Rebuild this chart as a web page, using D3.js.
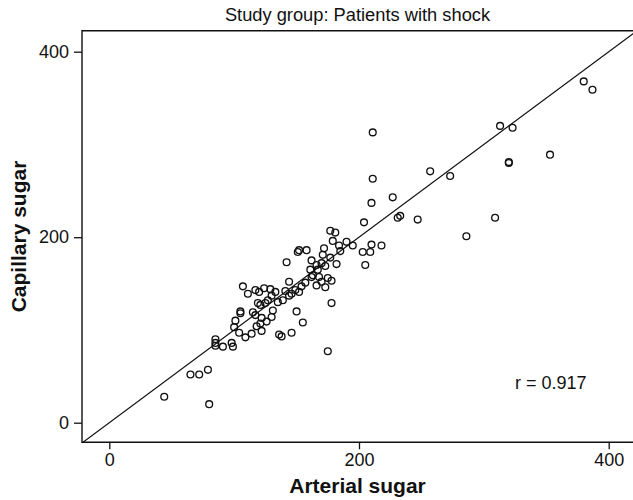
<!DOCTYPE html>
<html><head><meta charset="utf-8">
<script src="https://cdn.jsdelivr.net/npm/d3@7"></script>
<style>body{margin:0;background:#fff}svg{display:block}text{font-family:"Liberation Sans",Arial,sans-serif;fill:#111}</style>
</head><body><svg id="c" width="633" height="500"></svg>
<script>
const arterial = [44,65,72,79,80,85,85,85,91,98,99,104,109,114,100,101,105,105,115,117,121,122,121,118,122,126,130,131,125,119,136,
107,111,117,120,127,130,124,129,133,135,139,141,144,144,146,149,152,154,157,142,151,152,158,138,146,155,150,
162,166,167,161,163,168,170,175,178,173,166,162,172,171,170,173,177,177,181,179,184,185,190,195,182,178,175,
203,209,210,218,205,204,210,211,211,227,231,233,247,257,273,286,309,313,323,320,320,353,380,387];
const capillary = [28,52,52,57,20,90,86,83,82,86,82,97,92,96,103,110,120,118,119,116,127,113,107,104,99,109,114,121,129,129,95,
147,139,143,141,132,137,145,144,141,130,132,142,152,137,139,143,141,147,151,173,184,186,186,93,97,108,120,
175,170,165,165,159,157,152,156,153,146,148,157,188,181,172,169,178,207,205,196,191,185,195,191,171,129,77,
184,184,192,191,170,216,237,263,313,243,221,223,219,271,266,201,221,320,318,281,280,289,368,359];
const xTicks = [0,200,400];
const yTicks = [0,200,400];
const titleText = "Study group: Patients with shock";
const xLabel = "Arterial sugar";
const yLabel = "Capillary sugar";
const rText = "r = 0.917";

const svg = d3.select("#c");
const L=82, R=633, T=30.7, B=442.3;
const x = d3.scaleLinear().domain([-21.87,419.46]).range([L,R]);
const y = d3.scaleLinear().domain([-21.13,422.64]).range([B,T]);

svg.append("clipPath").attr("id","clip").append("rect")
  .attr("x",L).attr("y",T).attr("width",R-L).attr("height",B-T);

// identity line
svg.append("line").attr("clip-path","url(#clip)")
  .attr("x1",x(-30)).attr("y1",y(-30)).attr("x2",x(430)).attr("y2",y(430))
  .attr("stroke","#111").attr("stroke-width",1.2);

// points
svg.append("g").selectAll("circle").data(arterial.map((a,i)=>[a,capillary[i]]))
  .join("circle").attr("cx",d=>x(d[0])).attr("cy",d=>y(d[1])).attr("r",3.4)
  .attr("fill","none").attr("stroke","#111").attr("stroke-width",1.35);

// frame
svg.append("path").attr("d",`M${R},${T}H${L}V${B}H${R}`).attr("fill","none")
  .attr("stroke","#111").attr("stroke-width",1.4);

const gx = svg.append("g").attr("transform",`translate(0,${B})`)
  .call(d3.axisBottom(x).tickValues(xTicks).tickSize(7).tickPadding(4));
const gy = svg.append("g").attr("transform",`translate(${L},0)`)
  .call(d3.axisLeft(y).tickValues(yTicks).tickSize(8).tickPadding(5));
[gx,gy].forEach(g=>{
  g.select(".domain").remove();
  g.selectAll(".tick line").attr("stroke","#111").attr("stroke-width",1.3);
  g.selectAll(".tick text").attr("font-size",18).attr("font-family","Liberation Sans, Arial, sans-serif").attr("fill","#111");
});

svg.append("text").attr("x",(L+R)/2).attr("y",21).attr("text-anchor","middle")
  .attr("font-size",18.3).text(titleText);
svg.append("text").attr("x",(L+R)/2).attr("y",493).attr("text-anchor","middle")
  .attr("font-size",21).attr("font-weight","bold").text(xLabel);
svg.append("text").attr("transform",`translate(26,${(T+B)/2}) rotate(-90)`).attr("text-anchor","middle")
  .attr("font-size",21).attr("font-weight","bold").text(yLabel);
svg.append("text").attr("x",x(325)).attr("y",y(36)).attr("font-size",18).text(rText);
</script></body></html>
